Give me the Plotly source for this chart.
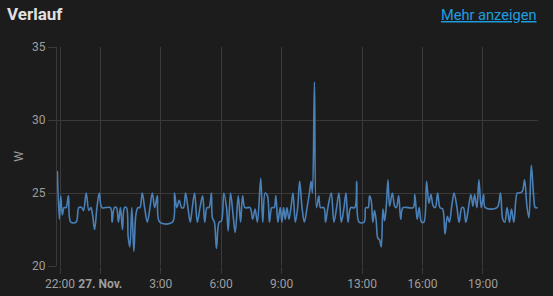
import pandas as pd
import plotly.graph_objects as go

# minutes relative to 27. Nov 00:00 and power readings in W
minutes = [
    -128, -122, -118, -113, -108, -102, -95, -88, -72, -64, -55, -50, -42, -34, -28, -23, -17, -10, -3, 5,
    30, 35, 42, 48, 54, 60, 66, 72, 78, 83, 88, 94, 100, 106, 112, 118, 125, 132, 140, 148,
    155, 162, 170, 177, 215, 221, 228, 235, 242, 248, 254, 261, 268, 274, 281, 289, 297, 305, 311, 318,
    324, 331,
    334, 340, 346, 354, 361, 368, 376, 381, 388, 396, 402, 411, 418, 424, 431, 446, 454, 461, 468, 478,
    484, 491, 498, 504, 511, 518, 523, 529, 536, 541, 546, 551, 556, 562, 568, 574, 581, 588, 594, 601,
    608, 616, 623, 628, 632, 638, 644, 651, 656, 666, 671, 678, 688, 696, 704, 711, 718, 726, 732, 738,
    746, 758, 764, 771, 786, 791, 798,
    802, 807, 812, 817, 822, 827, 832, 837, 842, 847, 852, 857, 862, 870, 877, 882, 889, 895, 902, 932,
    937, 944, 950, 957, 964, 972, 979, 985, 992, 998, 1005, 1012, 1020, 1027, 1034, 1040, 1047, 1054, 1062, 1069,
    1077, 1082, 1089, 1097, 1104, 1110, 1115, 1122, 1128, 1135, 1142, 1147, 1182, 1192, 1199, 1205, 1212, 1219, 1225, 1232,
    1242, 1247, 1257, 1264, 1271, 1277, 1284, 1291, 1296, 1303,
]
watts = [
    26.5, 23.2, 24.8, 23.5, 24, 24, 24.8, 23, 23, 24, 24, 23.8, 25, 23.8, 24, 23.5, 22.5, 24, 25, 24,
    24, 23, 24, 24, 23, 24, 22.5, 24, 24, 22, 21.3, 24, 21, 23.5, 24, 24, 25, 24, 23, 24,
    25, 24, 24.8, 23, 23, 25, 24, 24.5, 24, 24, 25, 24, 23, 24, 25, 23, 24, 24.8, 23, 24,
    24, 25,
    23.3, 23, 21.2, 23, 23.1, 25, 24, 22.4, 25, 23.4, 22.3, 24.8, 23, 24.8, 24, 24, 23.2, 23.9, 23, 26,
    23, 25, 24.8, 23, 24, 24, 24.8, 23, 24, 23, 24, 23.2, 24, 23.2, 24, 25, 23, 24, 25.8, 24,
    23, 24, 25, 25.8, 25, 32.6, 24, 24.8, 24, 24, 23, 24, 25, 23, 24, 25, 23, 24, 25, 23,
    24, 24, 25.8, 23, 23, 24, 24,
    24.8, 24.5, 23, 23.8, 23.1, 21.9, 21.8, 21.3, 23.9, 23.1, 24.1, 25.9, 24.1, 25, 24.1, 24, 24.8, 23.2, 24, 24,
    24.9, 23.2, 24, 23, 23, 25.8, 24.3, 24.9, 24.1, 24, 25, 24, 23.9, 22.2, 23.4, 23, 24.1, 25, 24.1, 23,
    24, 24, 23, 24, 24.9, 24.1, 24.9, 24, 25.9, 24, 24.9, 24, 24, 25, 23.2, 23, 24, 23, 23.9, 23,
    25, 25, 25.1, 25.9, 24.1, 23.3, 26.9, 24.8, 24, 24,
]

tick_times = ["2023-11-26 22:00", "2023-11-27 00:00", "2023-11-27 03:00", "2023-11-27 06:00",
              "2023-11-27 09:00", "2023-11-27 13:00", "2023-11-27 16:00", "2023-11-27 19:00"]
tick_labels = ["22:00", "<b>27. Nov.</b>", "3:00", "6:00", "9:00", "13:00", "16:00", "19:00"]
y_ticks = [20, 25, 30, 35]

base = pd.Timestamp("2023-11-27 00:00")
times = base + pd.to_timedelta(minutes, unit="min")

BG = "#1c1c1c"
GRID = "#3a3a3a"
TICKFONT = dict(family="Roboto", size=12, color="#9e9e9e")

fig = go.Figure()
fig.add_trace(go.Scatter(
    x=times, y=watts, mode="lines",
    line=dict(color="#4a80b8", width=1.6, shape="spline", smoothing=1.0),
    hoverinfo="skip", showlegend=False,
))

fig.update_layout(
    width=553, height=296,
    margin=dict(l=57, r=15, t=47, b=30),
    paper_bgcolor=BG, plot_bgcolor=BG,
    showlegend=False,
    title=dict(text="<b>Verlauf</b>", x=7 / 553, xref="container", xanchor="left",
               y=1 - 14 / 296, yref="container", yanchor="middle",
               font=dict(family="Roboto", size=17, color="#e1e1e1")),
    xaxis=dict(
        range=[base + pd.Timedelta(minutes=-129), base + pd.Timedelta(minutes=1304)],
        tickvals=pd.to_datetime(tick_times), ticktext=tick_labels,
        showgrid=True, gridcolor=GRID, gridwidth=1,
        ticks="outside", ticklen=7, tickcolor=GRID,
        showline=False, zeroline=False, tickfont=TICKFONT, automargin=False,
    ),
    yaxis=dict(
        range=[20, 35], tickvals=y_ticks,
        showgrid=True, gridcolor=GRID, gridwidth=1,
        ticks="outside", ticklen=8, tickcolor=GRID,
        showline=True, linecolor=GRID, linewidth=1,
        zeroline=False, tickfont=TICKFONT, automargin=False,
        title=dict(text="W", font=dict(family="Roboto", size=12, color="#9e9e9e"), standoff=5),
    ),
    annotations=[dict(
        text="<u>Mehr anzeigen</u>", xref="paper", yref="paper",
        x=1.002, y=(266 - 15) / 219, xanchor="right", yanchor="middle", showarrow=False,
        font=dict(family="Roboto", size=14.6, color="#1e9ee0"),
    )],
)

fig.write_html("out.html")
